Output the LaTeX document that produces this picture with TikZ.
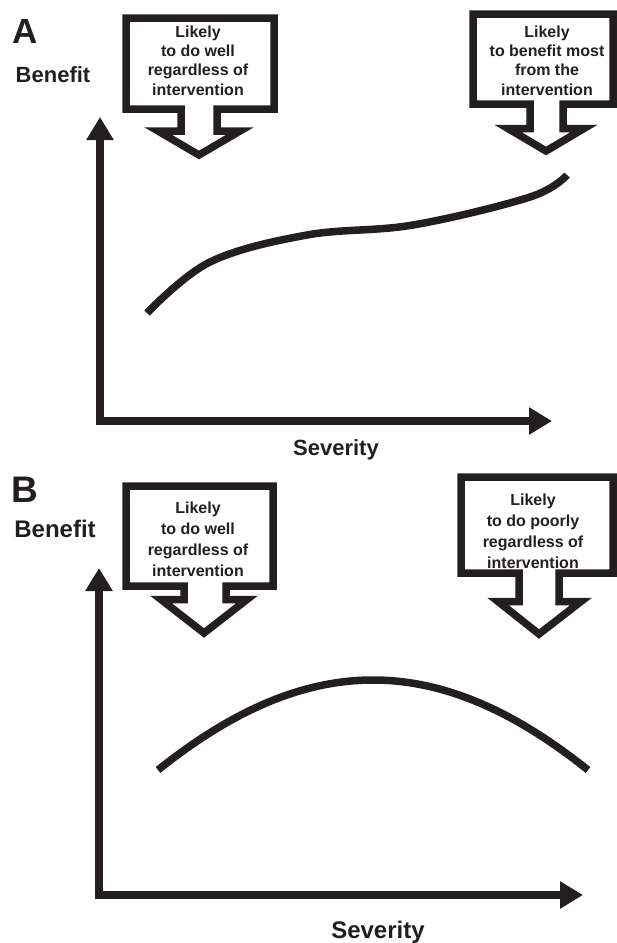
\documentclass[tikz,border=0pt]{standalone}
\usepackage{fontspec}
\setmainfont{Liberation Sans}
\usetikzlibrary{arrows.meta}
\definecolor{ink}{RGB}{35,31,32}

\begin{document}
\begin{tikzpicture}[x=1pt,y=-1pt,color=ink,line width=7.5pt,
    axis/.style={line join=miter,{Triangle[length=23pt,width=26pt]}-{Triangle[length=23pt,width=26pt]}},
    callout/.style={fill=white,line join=miter},
    boxtext/.style={font=\bfseries\fontsize{16}{19.3}\selectfont,align=center,inner sep=0pt},
    boxtextB/.style={boxtext,font=\bfseries\fontsize{16}{21}\selectfont}]
    \useasboundingbox (0,0) rectangle (617,943);
    % ---------- Panel A ----------
    \node[font=\bfseries\fontsize{35}{35}\selectfont,anchor=base] (lblA) at (25.5,43) {A};
    \node[font=\bfseries\fontsize{22}{22}\selectfont,anchor=base] (benA) at (53,82) {Benefit};
    % Axes
    \coordinate (oA) at (100,421);
    \draw[axis] (100,117) -- (oA) -- (552,421);
    \node[font=\bfseries\fontsize{22}{22}\selectfont,anchor=base] (sevA) at (336,455) {Severity};
    % Benefit curve
    \draw plot[smooth,tension=0.6] coordinates {(147,313) (210,262) (307,235) (413,225) (530,197) (567,175)};
    % Callouts
    \draw[callout] (126,109) -- (126,18) -- (274,18) -- (274,109) -- (217,109) -- (217,131)
        -- (240,131) -- (199,155) -- (158,131) -- (181,131) -- (181,109) -- cycle;
    \node[boxtext] (noteA1) at (198,60.5) {Likely\\to do well\\regardless of\\intervention};
    \draw[callout] (473,104) -- (473,14) -- (613,14) -- (613,104) -- (563,104) -- (563,128.5)
        -- (584,128.5) -- (546,151) -- (508,128.5) -- (530,128.5) -- (530,104) -- cycle;
    \node[boxtext] (noteA2) at (547,60.5) {Likely\\to benefit most\\from the\\intervention};
    % ---------- Panel B ----------
    \node[font=\bfseries\fontsize{37}{37}\selectfont,anchor=base] (lblB) at (25,502) {B};
    \node[font=\bfseries\fontsize{24}{24}\selectfont,anchor=base] (benB) at (55,537) {Benefit};
    % Axes
    \coordinate (oB) at (99,895);
    \draw[axis] (99,568) -- (oB) -- (583,895);
    \node[font=\bfseries\fontsize{24}{24}\selectfont,anchor=base] (sevB) at (378,938) {Severity};
    % Benefit curve
    \draw (158,770) .. controls (308,650) and (438,650) .. (588,770);
    % Callouts
    \draw[callout] (126,586) -- (126,486) -- (273,486) -- (273,586) -- (226,586) -- (226,599.5)
        -- (247,599.5) -- (204,633) -- (161,599.5) -- (184,599.5) -- (184,586) -- cycle;
    \node[boxtextB] (noteB1) at (198,539) {Likely\\to do well\\regardless of\\intervention};
    \draw[callout] (461,573) -- (461,477) -- (613,477) -- (613,573) -- (559,573) -- (559,601.5)
        -- (581,601.5) -- (539,634) -- (498,601.5) -- (519,601.5) -- (519,573) -- cycle;
    \node[boxtextB] (noteB2) at (533,531) {Likely\\to do poorly\\regardless of\\intervention};
\end{tikzpicture}
\end{document}
